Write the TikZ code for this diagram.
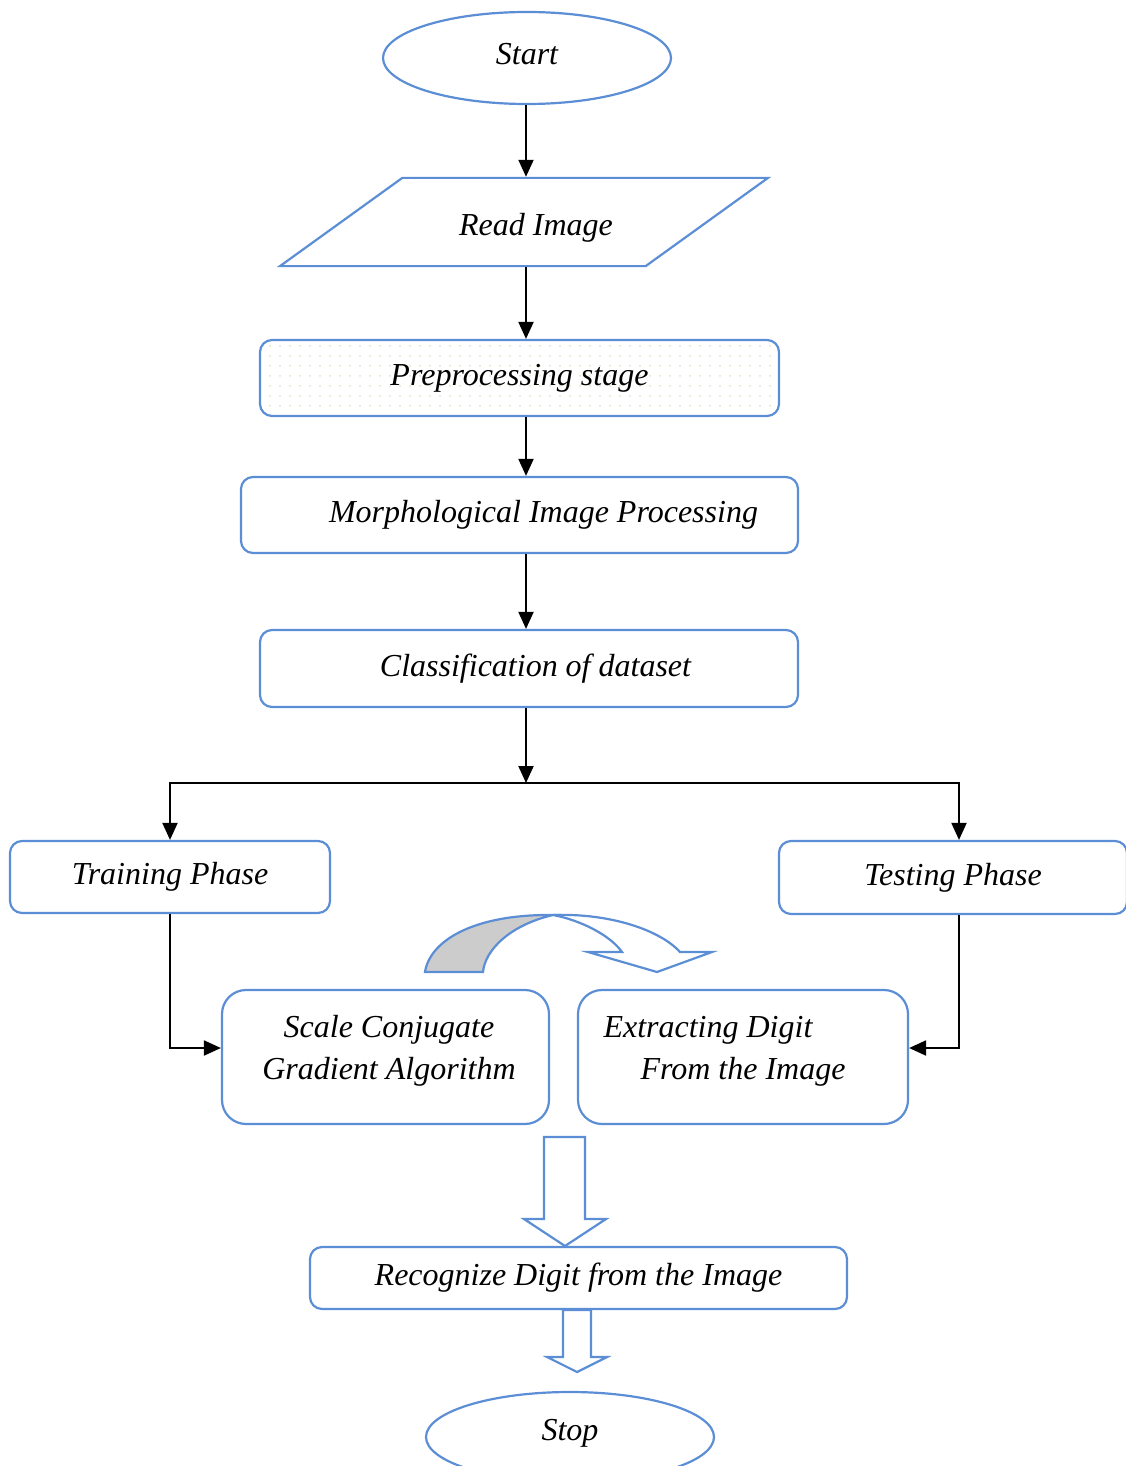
\documentclass[tikz,border=0pt]{standalone}
\usepackage{fontspec}
\setmainfont{Liberation Serif}
\usetikzlibrary{shapes.geometric,arrows.meta,patterns.meta}
\definecolor{boxblue}{RGB}{91,142,212}
\definecolor{dotcol}{RGB}{226,226,196}
\newcommand{\liftup}[2]{\raisebox{0pt}[\height][\dimexpr\depth+#1\relax]{#2}}
\newcommand{\dropdown}[2]{\raisebox{0pt}[\dimexpr\height+#1\relax][\depth]{#2}}

\begin{document}
\begin{tikzpicture}[x=0.5pt,y=-0.5pt]
\tikzstyle{txt}=[font=\fontsize{16}{21}\selectfont\itshape]
\tikzstyle{box}=[txt, draw=boxblue, line width=1.1pt, rounded corners=6pt, fill=white, inner sep=0pt]
\tikzstyle{bigbox}=[box, rounded corners=12pt]
\tikzstyle{oval}=[txt, draw=boxblue, line width=1.1pt, ellipse, inner sep=0pt]
\tikzstyle{flow}=[line width=1pt, -{Triangle[width=7.5pt,length=8.5pt]}]
\tikzstyle{block}=[draw=boxblue, line width=1.1pt, fill=white, line join=miter]

\useasboundingbox (0,0) rectangle (1125,1466);

\node[oval, minimum width=144pt, minimum height=46pt] (start) at (527,58)
    {\liftup{4pt}{Start}};
\node[txt, draw=boxblue, line width=1.1pt, trapezium, trapezium left angle=35.8,
    trapezium right angle=144.2, trapezium stretches body=true, minimum width=244pt,
    inner xsep=0pt, inner ysep=11.8pt] (read) at (524,222) {\dropdown{6pt}{\hspace*{12pt}Read Image}};
\node[box, pattern={Dots[distance=5pt,radius=0.5pt]}, pattern color=dotcol,
    minimum width=259.5pt, minimum height=38pt] (pre) at (519.5,378) {Preprocessing stage};
\node[box, minimum width=278.5pt, minimum height=38pt] (morph) at (519.5,515)
    {\hspace*{24pt}Morphological Image Processing};
\node[box, minimum width=269pt, minimum height=38.5pt] (class) at (529,668.5)
    {\hspace*{6.5pt}Classification of dataset};
\node[box, minimum width=160pt, minimum height=36pt] (train) at (170,877) {Training Phase};
\node[box, minimum width=174pt, minimum height=36.5pt] (test) at (953,877.5) {Testing Phase};
\node[bigbox, minimum width=163.5pt, minimum height=67pt] (scg) at (385.5,1057)
    {\hspace*{3.5pt}\liftup{7pt}{\begin{tabular}{@{}c@{}}Scale Conjugate\\Gradient Algorithm\end{tabular}}};
\node[bigbox, minimum width=165pt, minimum height=67pt] (ext) at (743,1057)
    {\liftup{7pt}{\begin{tabular}{@{}l@{}}Extracting Digit\\\hspace*{18.5pt}From the Image\hspace*{18.5pt}\end{tabular}}};
\node[box, minimum width=268.5pt, minimum height=31pt] (rec) at (578.5,1278)
    {Recognize Digit from the Image};
\node[oval, minimum width=144pt, minimum height=45pt] (stop) at (570,1437)
    {\liftup{4pt}{Stop}};

\coordinate (axis) at (526,0);
\coordinate (split) at (526,783);
\coordinate (tx) at (959,0);

\draw[flow] (axis |- start.south) -- (axis |- read.north);
\draw[flow] (axis |- read.south) -- (axis |- pre.north);
\draw[flow] (axis |- pre.south) -- (axis |- morph.north);
\draw[flow] (axis |- morph.south) -- (axis |- class.north);
\draw[flow] (axis |- class.south) -- (split);
\draw[flow] (split) -| (train.north);
\draw[flow] (split) -| (tx |- test.north);
\draw[flow] (train.south) |- ([yshift=4.5pt]scg.west);
\draw[flow] (tx |- test.south) |- ([yshift=4.5pt]ext.east);

\filldraw[draw=boxblue, fill=black!20, line width=1.1pt] (425,972)
    .. controls (430,940) and (475,914) .. (553,915)
    .. controls (510,925) and (485,950) .. (483,972) -- cycle;
\draw[block] (553,915) .. controls (610,913) and (660,930) .. (680,952)
    -- (712,952) -- (657,972) -- (588,952) -- (622,952)
    .. controls (610,935) and (580,920) .. (553,915);

\draw[block] (544,1137) -- (585,1137) -- (585,1219) -- (606,1219) -- (565,1246)
    -- (524,1219) -- (544,1219) -- cycle;
\draw[block] (563,1310) -- (591,1310) -- (591,1357) -- (607,1357) -- (577,1372)
    -- (547,1357) -- (563,1357) -- cycle;

\end{tikzpicture}
\end{document}
